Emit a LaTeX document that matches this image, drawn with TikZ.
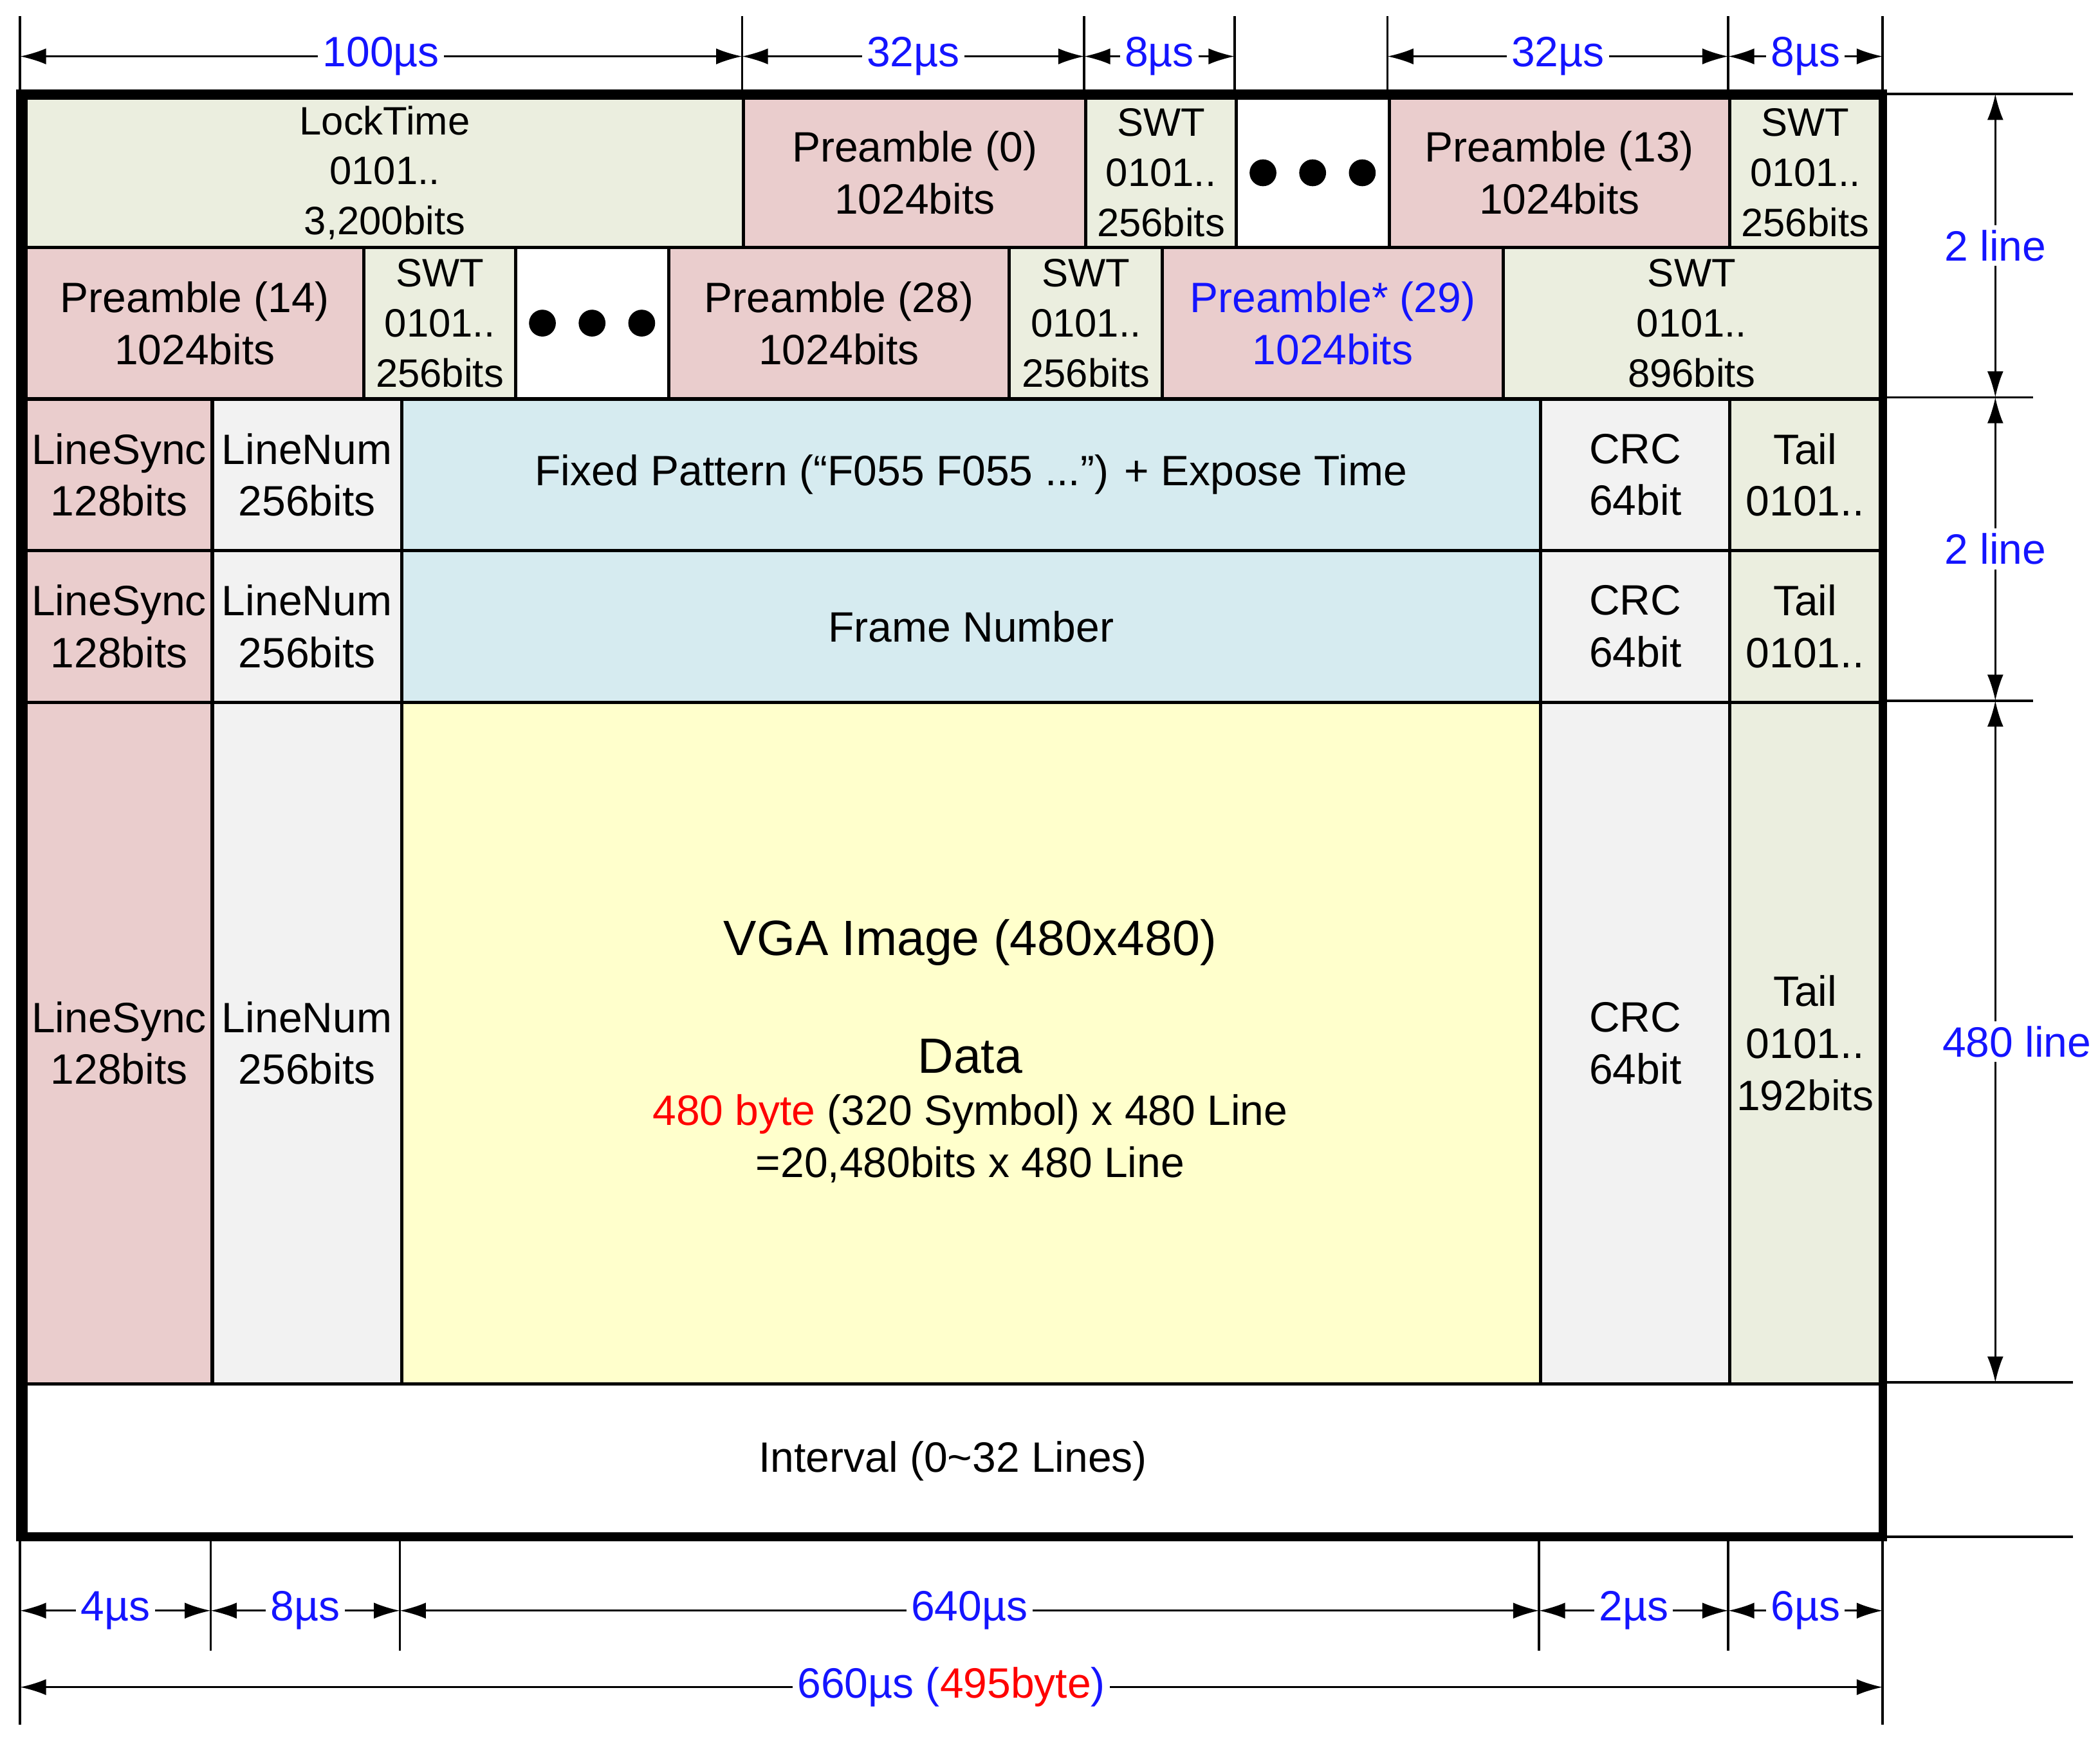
\documentclass[tikz,border=0pt]{standalone}
\usepackage{fontspec}
\setmainfont{Liberation Sans}
\usetikzlibrary{arrows.meta}
\newlength{\du}
\setlength{\du}{0.01cm}
\definecolor{pinkc}{RGB}{234,205,205}
\definecolor{greenc}{RGB}{235,238,223}
\definecolor{greyc}{RGB}{242,242,242}
\definecolor{bluec}{RGB}{214,235,240}
\definecolor{yellowc}{RGB}{255,255,204}
\definecolor{dimblue}{RGB}{20,20,255}
\tikzset{
  cell/.style={draw, line width=0.7pt, inner sep=0pt, anchor=north west, align=center,
    font=\fontsize{8.4}{10.6}\selectfont},
  big/.style={font=\fontsize{9}{11}\selectfont},
  dim/.style={line width=0.35pt, {Latex[length=5.5pt,width=3.4pt]}-{Latex[length=5.5pt,width=3.4pt]}},
  tick/.style={line width=0.5pt},
  lbl/.style={fill=white, inner sep=1pt, text=dimblue, font=\fontsize{9}{11}\selectfont},
  dot/.style={fill=black, circle, inner sep=0pt, minimum size=20\du}
}
\begin{document}
\begin{tikzpicture}[x=1\du, y=-1\du]
\useasboundingbox (0,0) rectangle (1565,1299);
% row 1
\node[cell, fill=greenc, minimum width=535\du, minimum height=111\du] (lock) at (18,72) {LockTime\\0101..\\3,200bits};
\node[cell, big, fill=pinkc, minimum width=255\du, minimum height=111\du] (pre0) at (553,72) {Preamble (0)\\1024bits};
\node[cell, fill=greenc, minimum width=112\du, minimum height=111\du] (swt0) at (808,72) {SWT\\0101..\\256bits};
\node[cell, fill=white, minimum width=114\du, minimum height=111\du] (dotsA) at (920,72) {};
\node[cell, big, fill=pinkc, minimum width=254\du, minimum height=111\du] (pre13) at (1034,72) {Preamble (13)\\1024bits};
\node[cell, fill=greenc, minimum width=112\du, minimum height=111\du] (swt13) at (1288,72) {SWT\\0101..\\256bits};
% row 2
\node[cell, big, fill=pinkc, minimum width=252\du, minimum height=113\du] (pre14) at (18,183) {Preamble (14)\\1024bits};
\node[cell, fill=greenc, minimum width=113\du, minimum height=113\du] (swt14) at (270,183) {SWT\\0101..\\256bits};
\node[cell, fill=white, minimum width=114\du, minimum height=113\du] (dotsB) at (383,183) {};
\node[cell, big, fill=pinkc, minimum width=254\du, minimum height=113\du] (pre28) at (497,183) {Preamble (28)\\1024bits};
\node[cell, fill=greenc, minimum width=114\du, minimum height=113\du] (swt28) at (751,183) {SWT\\0101..\\256bits};
\node[cell, big, fill=pinkc, text=dimblue, minimum width=254\du, minimum height=113\du] (pre29) at (865,183) {Preamble* (29)\\1024bits};
\node[cell, fill=greenc, minimum width=281\du, minimum height=113\du] (swt29) at (1119,183) {SWT\\0101..\\896bits};
% dots
\foreach \c in {dotsA, dotsB} {
  \node[dot] at ([xshift=-37\du]\c.center) {};
  \node[dot] at (\c.center) {};
  \node[dot] at ([xshift=37\du]\c.center) {};
}
% row 3 and 4
\node[cell, big, fill=pinkc, minimum width=139\du, minimum height=113\du] (sync1) at (18,296) {LineSync\\128bits};
\node[cell, big, fill=greyc, minimum width=141\du, minimum height=113\du] (num1) at (157,296) {LineNum\\256bits};
\node[cell, big, fill=bluec, minimum width=849\du, minimum height=113\du] (fixed) at (298,296) {Fixed Pattern (“F055 F055 ...”) + Expose Time};
\node[cell, big, fill=greyc, minimum width=141\du, minimum height=113\du] (crc1) at (1147,296) {CRC\\64bit};
\node[cell, big, fill=greenc, minimum width=112\du, minimum height=113\du] (tail1) at (1288,296) {Tail\\0101..};
\node[cell, big, fill=pinkc, minimum width=139\du, minimum height=113\du] (sync2) at (18,409) {LineSync\\128bits};
\node[cell, big, fill=greyc, minimum width=141\du, minimum height=113\du] (num2) at (157,409) {LineNum\\256bits};
\node[cell, big, fill=bluec, minimum width=849\du, minimum height=113\du] (frame) at (298,409) {Frame Number};
\node[cell, big, fill=greyc, minimum width=141\du, minimum height=113\du] (crc2) at (1147,409) {CRC\\64bit};
\node[cell, big, fill=greenc, minimum width=112\du, minimum height=113\du] (tail2) at (1288,409) {Tail\\0101..};
% row 5
\node[cell, big, fill=pinkc, minimum width=139\du, minimum height=508\du] (sync3) at (18,522) {LineSync\\128bits};
\node[cell, big, fill=greyc, minimum width=141\du, minimum height=508\du] (num3) at (157,522) {LineNum\\256bits};
\node[cell, fill=yellowc, minimum width=849\du, minimum height=508\du] (vga) at (298,522) {};
\node[big, align=center] (vgatxt) at (723,783) {{\fontsize{10.5}{13}\selectfont VGA Image (480x480)}\\[14pt]{\fontsize{10.5}{13}\selectfont Data}\\\textcolor{red}{480 byte} (320 Symbol) x 480 Line\\=20,480bits x 480 Line};
\node[cell, big, fill=greyc, minimum width=141\du, minimum height=508\du] (crc3) at (1147,522) {CRC\\64bit};
\node[cell, big, fill=greenc, minimum width=112\du, minimum height=508\du] (tail3) at (1288,522) {Tail\\0101..\\192bits};
% interval
\node[cell, big, fill=white, minimum width=1382\du, minimum height=115\du] (gap) at (18,1030) {Interval (0\textasciitilde32 Lines)};
\draw[line width=1.8pt] (15,70) rectangle (1403,1145);
% top dimensions
\foreach \n/\x in {t0/15, t1/553, t2/808, t3/920, t4/1034, t5/1288, t6/1403} {
  \coordinate (\n) at (\x,42);
  \draw[tick] (\x,12) -- (\x,70);
}
\draw[dim] (t0) -- (t1) node[midway, lbl] {100µs};
\draw[dim] (t1) -- (t2) node[midway, lbl] {32µs};
\draw[dim] (t2) -- (t3) node[midway, lbl] {8µs};
\draw[dim] (t4) -- (t5) node[midway, lbl] {32µs};
\draw[dim] (t5) -- (t6) node[midway, lbl] {8µs};
% right dimensions
\draw[tick] (1403,70) -- (1545,70);
\draw[tick] (1403,296) -- (1515,296);
\draw[tick] (1403,522) -- (1515,522);
\draw[tick] (1403,1030) -- (1545,1030);
\draw[tick] (1403,1145) -- (1545,1145);
\coordinate (r0) at (1487,70);
\coordinate (r1) at (1487,296);
\coordinate (r2) at (1487,522);
\coordinate (r3) at (1487,1030);
\draw[dim] (r0) -- (r1) node[midway, lbl] {2 line};
\draw[dim] (r1) -- (r2) node[midway, lbl] {2 line};
\draw[dim] (r2) -- (r3);
\node[lbl] (l480) at (1503,776) {480 line};
% bottom dimensions
\foreach \n/\x in {b1/157, b2/298, b3/1147, b4/1288} {
  \coordinate (\n) at (\x,1200);
  \draw[tick] (\x,1145) -- (\x,1230);
}
\draw[tick] (15,1145) -- (15,1285);
\draw[tick] (1403,1145) -- (1403,1285);
\coordinate (b0) at (15,1200);
\coordinate (b5) at (1403,1200);
\coordinate (c0) at (15,1257);
\coordinate (c1) at (1403,1257);
\draw[dim] (b0) -- (b1) node[midway, lbl] {4µs};
\draw[dim] (b1) -- (b2) node[midway, lbl] {8µs};
\draw[dim] (b2) -- (b3) node[midway, lbl] {640µs};
\draw[dim] (b3) -- (b4) node[midway, lbl] {2µs};
\draw[dim] (b4) -- (b5) node[midway, lbl] {6µs};
\draw[dim] (c0) -- (c1) node[midway, lbl] {660µs (\textcolor{red}{495byte})};
\end{tikzpicture}
\end{document}
